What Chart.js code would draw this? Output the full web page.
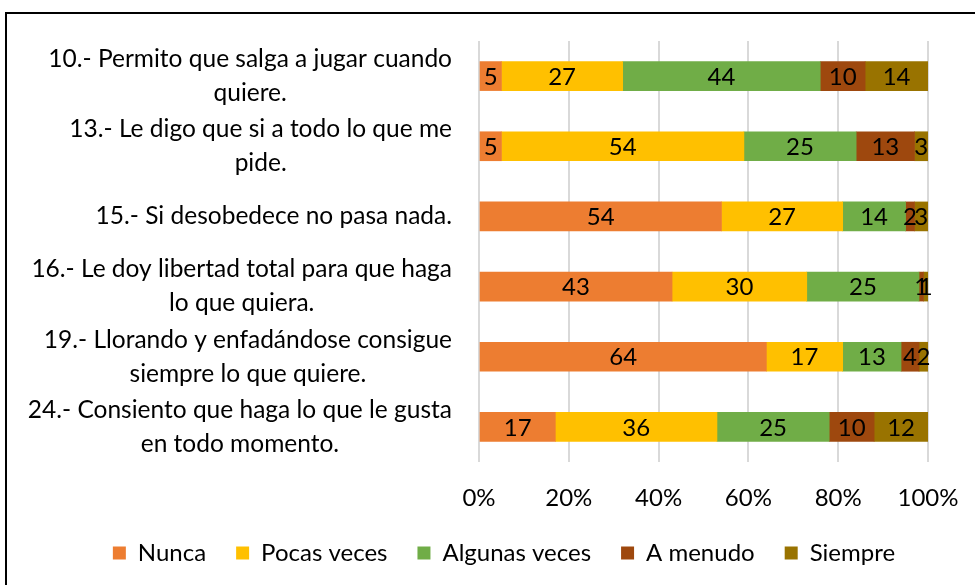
<!DOCTYPE html>
<html>
<head>
<meta charset="utf-8">
<script src="https://cdn.jsdelivr.net/npm/chart.js@4.4.0/dist/chart.umd.min.js"></script>
<style>
  html, body { margin: 0; padding: 0; background: #fff; overflow: hidden; }
  #frame { position: absolute; left: 5px; top: 12px; width: 1000px; height: 600px; border: 2px solid #000; box-sizing: border-box; }
  #wrap { position: absolute; left: 0; top: 0; width: 975px; height: 585px; }
</style>
</head>
<body>
<div id="frame"></div>
<div id="wrap"><canvas id="chart" width="975" height="585"></canvas></div>
<script>
const categories = [
    ['10.- Permito que salga a jugar cuando', 'quiere.'],
    ['13.- Le digo que si a todo lo que me', 'pide.'],
    ['15.- Si desobedece no pasa nada.'],
    ['16.- Le doy libertad total para que haga', 'lo que quiera.'],
    ['19.- Llorando y enfadándose consigue', 'siempre lo que quiere.'],
    ['24.- Consiento que haga lo que le gusta', 'en todo momento.']
];
const nunca = [5, 5, 54, 43, 64, 17];
const pocasVeces = [27, 54, 27, 30, 17, 36];
const algunasVeces = [44, 25, 14, 25, 13, 25];
const aMenudo = [10, 13, 2, 1, 4, 10];
const siempre = [14, 3, 3, 1, 2, 12];
const xTicks = [0, 20, 40, 60, 80, 100];

const FONT = 'Lato';

// numbers centred inside each segment
const segmentLabels = {
    id: 'segmentLabels',
    afterDatasetsDraw(chart) {
        const ctx = chart.ctx;
        ctx.save();
        ctx.font = '24px ' + FONT;
        ctx.fillStyle = '#000';
        ctx.textAlign = 'center';
        ctx.textBaseline = 'middle';
        chart.data.datasets.forEach((ds, i) => {
            chart.getDatasetMeta(i).data.forEach((bar, j) => {
                const x = (bar.x + bar.base) / 2;
                ctx.fillText(String(ds.data[j]), x, bar.y + 1);
            });
        });
        ctx.restore();
    }
};

// category labels: lines centred on each other, block right-aligned
const categoryLabels = {
    id: 'categoryLabels',
    afterDraw(chart) {
        const ctx = chart.ctx;
        const yScale = chart.scales.y;
        const right = 452;
        const lineH = 34;
        ctx.save();
        ctx.font = '24.5px ' + FONT;
        ctx.fillStyle = '#000';
        ctx.textAlign = 'center';
        ctx.textBaseline = 'middle';
        categories.forEach((lines, i) => {
            const y = yScale.getPixelForValue(i);
            const w = Math.max(...lines.map(l => ctx.measureText(l).width));
            const cx = right - w / 2;
            const top = y - (lines.length - 1) * lineH / 2;
            lines.forEach((l, k) => ctx.fillText(l, cx, top + k * lineH));
        });
        ctx.restore();
    }
};

// the legend sits a bit right of centre in the original
const legendShift = {
    id: 'legendShift',
    afterLayout(chart) {
        chart.legend.left += 40;
        chart.legend.right += 40;
    }
};

const ctx = document.getElementById('chart').getContext('2d');
new Chart(ctx, {
    type: 'bar',
    data: {
        labels: categories.map(c => c.join(' ')),
        datasets: [
            { label: 'Nunca', data: nunca, backgroundColor: '#ED7D31' },
            { label: 'Pocas veces', data: pocasVeces, backgroundColor: '#FFC000' },
            { label: 'Algunas veces', data: algunasVeces, backgroundColor: '#70AD47' },
            { label: 'A menudo', data: aMenudo, backgroundColor: '#9E480E' },
            { label: 'Siempre', data: siempre, backgroundColor: '#997300' }
        ]
    },
    options: {
        indexAxis: 'y',
        responsive: false,
        animation: false,
        barThickness: 29,
        layout: { padding: { top: 41, right: 47, bottom: 10, left: 0 } },
        scales: {
            x: {
                stacked: true,
                min: 0,
                max: 100,
                afterBuildTicks: scale => { scale.ticks = xTicks.map(v => ({ value: v })); },
                afterFit: scale => {
                    scale.height = 49;
                    scale.paddingLeft = 0;
                    scale.paddingRight = 0;
                },
                ticks: {
                    callback: v => v + '%',
                    font: { family: FONT, size: 24 },
                    color: '#000',
                    padding: 22
                },
                grid: { color: '#d9d9d9', lineWidth: 2, drawTicks: false },
                border: { display: false }
            },
            y: {
                stacked: true,
                ticks: { display: false },
                grid: { display: false },
                border: { display: false },
                afterFit: scale => { scale.width = 479; }
            }
        },
        plugins: {
            legend: {
                position: 'bottom',
                labels: {
                    font: { family: FONT, size: 24 },
                    color: '#000',
                    boxWidth: 13,
                    boxHeight: 13,
                    padding: 30
                }
            },
            tooltip: { enabled: false }
        }
    },
    plugins: [segmentLabels, categoryLabels, legendShift]
});
</script>
</body>
</html>
